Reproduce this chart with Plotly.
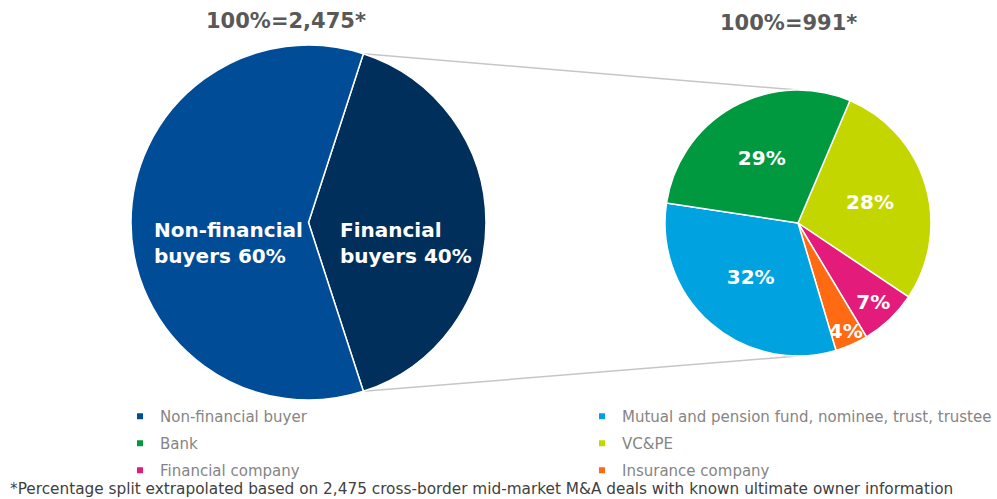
import math
import plotly.graph_objects as go

# ---------------- data ----------------
left_title = "100%=2,475*"
right_title = "100%=991*"

left_labels = ["Financial buyers", "Non-financial buyer"]
left_text = ["Financial<br>buyers 40%", "Non-financial<br>buyers 60%"]
left_values = [40, 60]
left_colors = ["#002F5C", "#004C97"]

right_labels = ["VC&PE", "Financial company", "Insurance company",
                "Mutual and pension fund, nominee, trust, trustee", "Bank"]
right_values = [28, 7, 4, 32, 29]
right_colors = ["#C4D600", "#E31C7B", "#FF6A13", "#00A3E0", "#00993F"]

legend_rows = [
    ["Non-financial buyer", "Mutual and pension fund, nominee, trust, trustee"],
    ["Bank", "VC&PE"],
    ["Financial company", "Insurance company"],
]
legend_colors = {
    "Non-financial buyer": "#004C97",
    "Mutual and pension fund, nominee, trust, trustee": "#00A3E0",
    "Bank": "#00993F",
    "VC&PE": "#C4D600",
    "Financial company": "#E31C7B",
    "Insurance company": "#FF6A13",
}
footnote = ("*Percentage split extrapolated based on 2,475 cross-border "
            "mid-market M&A deals with known ultimate owner information")

# ---------------- layout geometry ----------------
W, H = 997, 499
FONT = "DejaVu Sans"
L_CX, L_CY, L_R, L_ROT = 308.5, 222.5, 177.5, 18
R_CX, R_CY, R_R, R_ROT = 798, 223, 133, 23


def dom(cx, cy, r):
    return dict(x=[(cx - r) / W, (cx + r) / W], y=[1 - (cy + r) / H, 1 - (cy - r) / H])


fig = go.Figure()

fig.add_trace(go.Pie(
    labels=left_labels, values=left_values,
    textinfo="none",
    sort=False, direction="clockwise", rotation=L_ROT,
    marker=dict(colors=left_colors, line=dict(color="white", width=1.5)),
    domain=dom(L_CX, L_CY, L_R), showlegend=False, hoverinfo="label+percent",
))

fig.add_trace(go.Pie(
    labels=right_labels, values=right_values,
    texttemplate="%{value}%", textposition="inside", insidetextorientation="horizontal",
    sort=False, direction="clockwise", rotation=R_ROT,
    marker=dict(colors=right_colors, line=dict(color="white", width=1.5)),
    textfont=dict(family=FONT, size=20, color="white", weight="bold"),
    domain=dom(R_CX, R_CY, R_R), showlegend=False, hoverinfo="label+percent",
))

# legend entries (dummy traces, one legend per cell of the 2-column grid)
row_y = [416.5, 443.5, 470.5]
col_text_x = [160, 622]
legends = {}
k = 0
for i, row in enumerate(legend_rows):
    for j, name in enumerate(row):
        k += 1
        key = "legend" if k == 1 else f"legend{k}"
        fig.add_trace(go.Scatter(
            x=[None], y=[None], mode="markers", name=name, legend=key,
            marker=dict(symbol="square", size=6, color=legend_colors[name]),
            showlegend=True, hoverinfo="skip",
        ))
        legends[key] = dict(
            orientation="v", xanchor="left", yanchor="middle",
            x=(col_text_x[j] - 40) / W, y=1 - row_y[i] / H, itemwidth=30,
            font=dict(family=FONT, size=15, color="#858585"),
            bgcolor="rgba(0,0,0,0)", borderwidth=0,
            itemclick=False, itemdoubleclick=False,
        )

# connector lines from left-pie split to right pie top/bottom
top_ang = math.radians(L_ROT)
bot_ang = math.radians(L_ROT + 360 * left_values[0] / sum(left_values))
p1 = (L_CX + L_R * math.sin(top_ang), L_CY - L_R * math.cos(top_ang))
p2 = (L_CX + L_R * math.sin(bot_ang), L_CY - L_R * math.cos(bot_ang))
q1 = (R_CX, R_CY - R_R)
q2 = (R_CX, R_CY + R_R)
shapes = []
for a, b in [(p1, q1), (p2, q2)]:
    shapes.append(dict(type="line", xref="paper", yref="paper", layer="below",
                       x0=a[0] / W, y0=1 - a[1] / H, x1=b[0] / W, y1=1 - b[1] / H,
                       line=dict(color="#C6C6C6", width=1.5)))

annotations = [
    dict(text=left_title, x=286 / W, y=1 - 21 / H, xref="paper", yref="paper",
         showarrow=False, xanchor="center", yanchor="middle",
         font=dict(family=FONT, size=21, color="#595959", weight="bold")),
    dict(text=right_title, x=788 / W, y=1 - 23 / H, xref="paper", yref="paper",
         showarrow=False, xanchor="center", yanchor="middle",
         font=dict(family=FONT, size=21, color="#595959", weight="bold")),
    dict(text=footnote, x=8 / W, y=1 - 489 / H, xref="paper", yref="paper",
         showarrow=False, xanchor="left", yanchor="middle",
         font=dict(family=FONT, size=15.3, color="#404040")),
]
# left pie slice labels (left-aligned, as in the reference)
left_label_pos = [(338, 242.5), (152, 242.5)]
for txt, (lx, ly) in zip(left_text, left_label_pos):
    annotations.append(dict(
        text=txt, x=lx / W, y=1 - ly / H, xref="paper", yref="paper",
        showarrow=False, xanchor="left", yanchor="middle", align="left",
        font=dict(family=FONT, size=20, color="white", weight="bold")))

fig.update_layout(
    width=W, height=H, margin=dict(l=0, r=0, t=0, b=0, autoexpand=False),
    paper_bgcolor="white", plot_bgcolor="white",
    xaxis=dict(visible=False), yaxis=dict(visible=False),
    uniformtext=dict(minsize=20, mode="show"),
    shapes=shapes, annotations=annotations, **legends,
)

fig.write_html("out.html",
               config={"displayModeBar": False},
               post_script="document.body.style.margin='0px';"
                           "document.body.style.overflow='hidden';")
